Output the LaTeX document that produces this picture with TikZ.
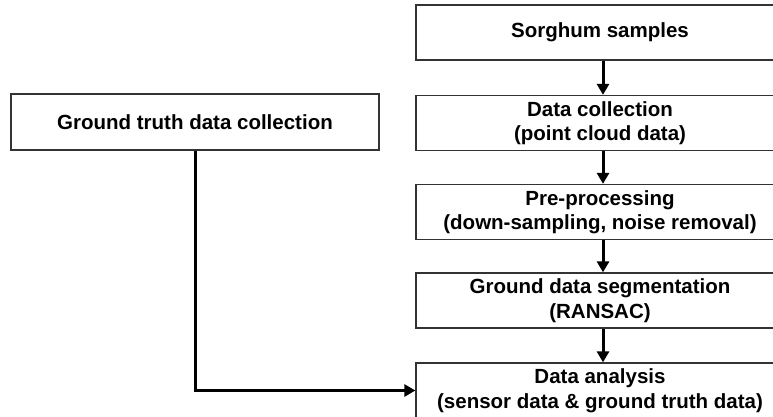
\documentclass[tikz,border=0pt]{standalone}
\usepackage{fontspec}
\setmainfont{Liberation Sans}
\usetikzlibrary{arrows.meta}
\begin{document}
\begin{tikzpicture}[x=1pt,y=-1pt,
  box/.style={draw=black!80, line width=1.3pt, fill=white, minimum width=368pt, minimum height=55pt, inner sep=0pt, align=center, font=\fontsize{20.5}{24.5}\selectfont\bfseries},
  conn/.style={line width=3pt, -{Triangle[width=12pt,length=11pt]}}]
\clip (0,0) rectangle (773,417);
\node[box] (s1) at (600,32.5) {Sorghum samples};
\node[box] (s2) at (600,123) {Data collection\\(point cloud data)};
\node[box] (s3) at (600,212) {Pre-processing\\(down-sampling, noise removal)};
\node[box] (s4) at (600,300.5) {Ground data segmentation\\(RANSAC)};
\node[box] (s5) at (600,390.5) {Data analysis\\(sensor data \& ground truth data)};
\node[box, minimum height=56pt] (gt) at (195,122) {Ground truth data collection};
\draw[conn] ([xshift=3pt]s1.south) -- ([xshift=3pt]s2.north);
\draw[conn] ([xshift=3pt]s2.south) -- ([xshift=3pt]s3.north);
\draw[conn] ([xshift=3pt]s3.south) -- ([xshift=3pt]s4.north);
\draw[conn] ([xshift=3pt]s4.south) -- ([xshift=3pt]s5.north);
\draw[conn] (gt.south) |- (s5.west);
\end{tikzpicture}
\end{document}
